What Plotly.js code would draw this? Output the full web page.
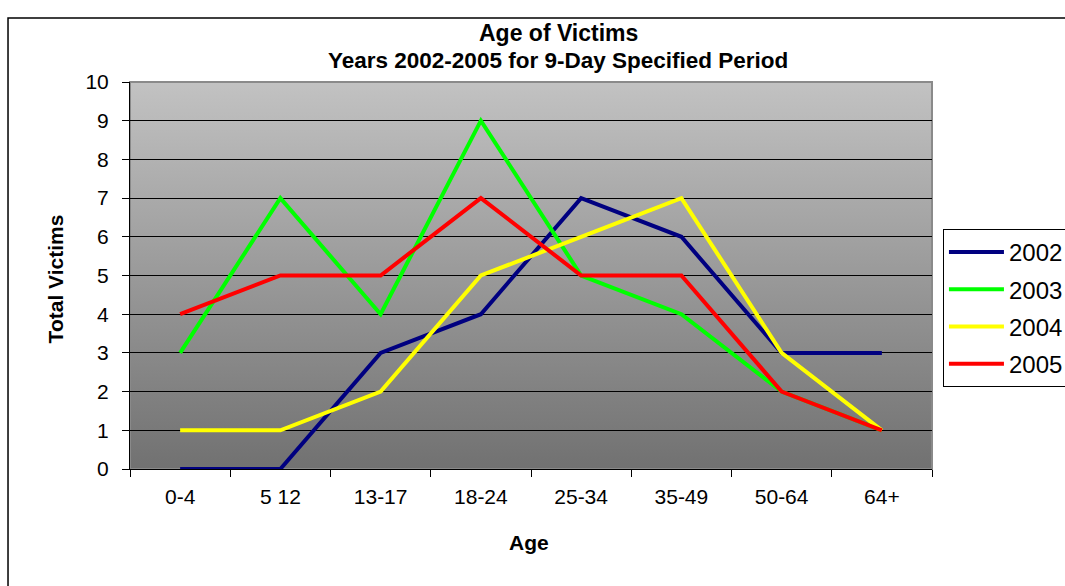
<!DOCTYPE html>
<html>
<head>
<meta charset="utf-8">
<script src="https://cdn.plot.ly/plotly-3.0.1.min.js"></script>
<style>html,body{margin:0;padding:0;background:#fff;}#chart{width:1065px;height:586px;}</style>
</head>
<body>
<div id="chart"></div>
<script>
const ageGroups = ["0-4", "5 12", "13-17", "18-24", "25-34", "35-49", "50-64", "64+"];
const seriesNames = ["2002", "2003", "2004", "2005"];
const v2002 = [0, 0, 3, 4, 7, 6, 3, 3];
const v2003 = [3, 7, 4, 9, 5, 4, 2, 1];
const v2004 = [1, 1, 2, 5, 6, 7, 3, 1];
const v2005 = [4, 5, 5, 7, 5, 5, 2, 1];
const yTicks = [0, 1, 2, 3, 4, 5, 6, 7, 8, 9, 10];
const titleLine1 = "Age of Victims";
const titleLine2 = "Years 2002-2005 for 9-Day Specified Period";
const xTitle = "Age";
const yTitle = "Total Victims";

const colors = ["#000080", "#00ff00", "#ffff00", "#ff0000"];
const values = [v2002, v2003, v2004, v2005];

const traces = values.map((v, i) => ({
  x: ageGroups,
  y: v,
  type: "scatter",
  mode: "lines",
  name: seriesNames[i],
  legendgroup: "g" + i,
  line: {color: colors[i], width: 4},
  cliponaxis: false
}));

const grad = 'data:image/svg+xml;charset=utf-8,' + encodeURIComponent(
  '<svg xmlns="http://www.w3.org/2000/svg" width="100" height="100" preserveAspectRatio="none">' +
  '<defs><linearGradient id="g" x1="0" y1="0" x2="0" y2="1">' +
  '<stop offset="0" stop-color="#c2c2c2"/><stop offset="1" stop-color="#717171"/>' +
  '</linearGradient></defs><rect width="100" height="100" fill="url(#g)"/></svg>');

const font = "Liberation Sans, Arial, sans-serif";

const layout = {
  width: 1065,
  height: 586,
  margin: {l: 130, r: 133, t: 82, b: 117},
  paper_bgcolor: "#ffffff",
  plot_bgcolor: "rgba(0,0,0,0)",
  font: {family: font, color: "#000", size: 21},
  xaxis: {
    type: "category",
    range: [-0.5, 7.5],
    tickson: "boundaries",
    ticks: "outside",
    ticklen: 7,
    tickcolor: "#000",
    showline: true,
    linecolor: "#000",
    linewidth: 1,
    showgrid: false,
    zeroline: false,
    automargin: false,
    ticklabelstandoff: 9,
    tickfont: {family: font, size: 21}
  },
  yaxis: {
    range: [0, 10],
    tickvals: yTicks,
    ticktext: yTicks.map(String),
    ticks: "outside",
    ticklen: 7,
    tickcolor: "#000",
    showline: true,
    linecolor: "#000",
    linewidth: 1,
    showgrid: true,
    gridcolor: "#000",
    gridwidth: 1,
    zeroline: false,
    automargin: false,
    ticklabelstandoff: 9,
    tickfont: {family: font, size: 21}
  },
  legend: {
    xref: "container", yref: "container",
    x: 0.8854, xanchor: "left",
    y: 0.6092, yanchor: "top",
    bgcolor: "#ffffff",
    bordercolor: "#000",
    borderwidth: 1,
    font: {family: font, size: 24},
    traceorder: "grouped",
    tracegroupgap: 3,
    itemwidth: 55
  },
  annotations: [
    {text: "<b>" + titleLine1 + "</b>", xref: "paper", yref: "paper", x: 0.5337, y: 1.1266,
     xanchor: "center", yanchor: "middle", showarrow: false, font: {family: font, size: 23}},
    {text: "<b>" + titleLine2 + "</b>", xref: "paper", yref: "paper", x: 0.5337, y: 1.0543,
     xanchor: "center", yanchor: "middle", showarrow: false, font: {family: font, size: 22.5}},
    {text: "<b>" + xTitle + "</b>", xref: "paper", yref: "paper", x: 0.4975, y: -0.1912,
     xanchor: "center", yanchor: "middle", showarrow: false, font: {family: font, size: 21}},
    {text: "<b>" + yTitle + "</b>", xref: "paper", yref: "paper", x: -0.0935, y: 0.49,
     xanchor: "center", yanchor: "middle", textangle: -90, showarrow: false, font: {family: font, size: 21}}
  ],
  images: [{
    source: grad,
    xref: "paper", yref: "paper",
    x: 0, y: 1, sizex: 1, sizey: 1,
    xanchor: "left", yanchor: "top",
    sizing: "stretch",
    layer: "below"
  }],
  shapes: [
    {type: "rect", xref: "paper", yref: "paper", x0: 0, x1: 1, y0: 0, y1: 1,
     line: {color: "#8a8a8a", width: 2}, layer: "below"},
    {type: "rect", xref: "paper", yref: "paper", x0: -0.1521, x1: 1.3, y0: -0.4, y1: 1.1654,
     line: {color: "#000", width: 1.5}, fillcolor: "rgba(0,0,0,0)"}
  ],
  showlegend: true
};

Plotly.newPlot("chart", traces, layout, {displayModeBar: false, staticPlot: true});
</script>
</body>
</html>
